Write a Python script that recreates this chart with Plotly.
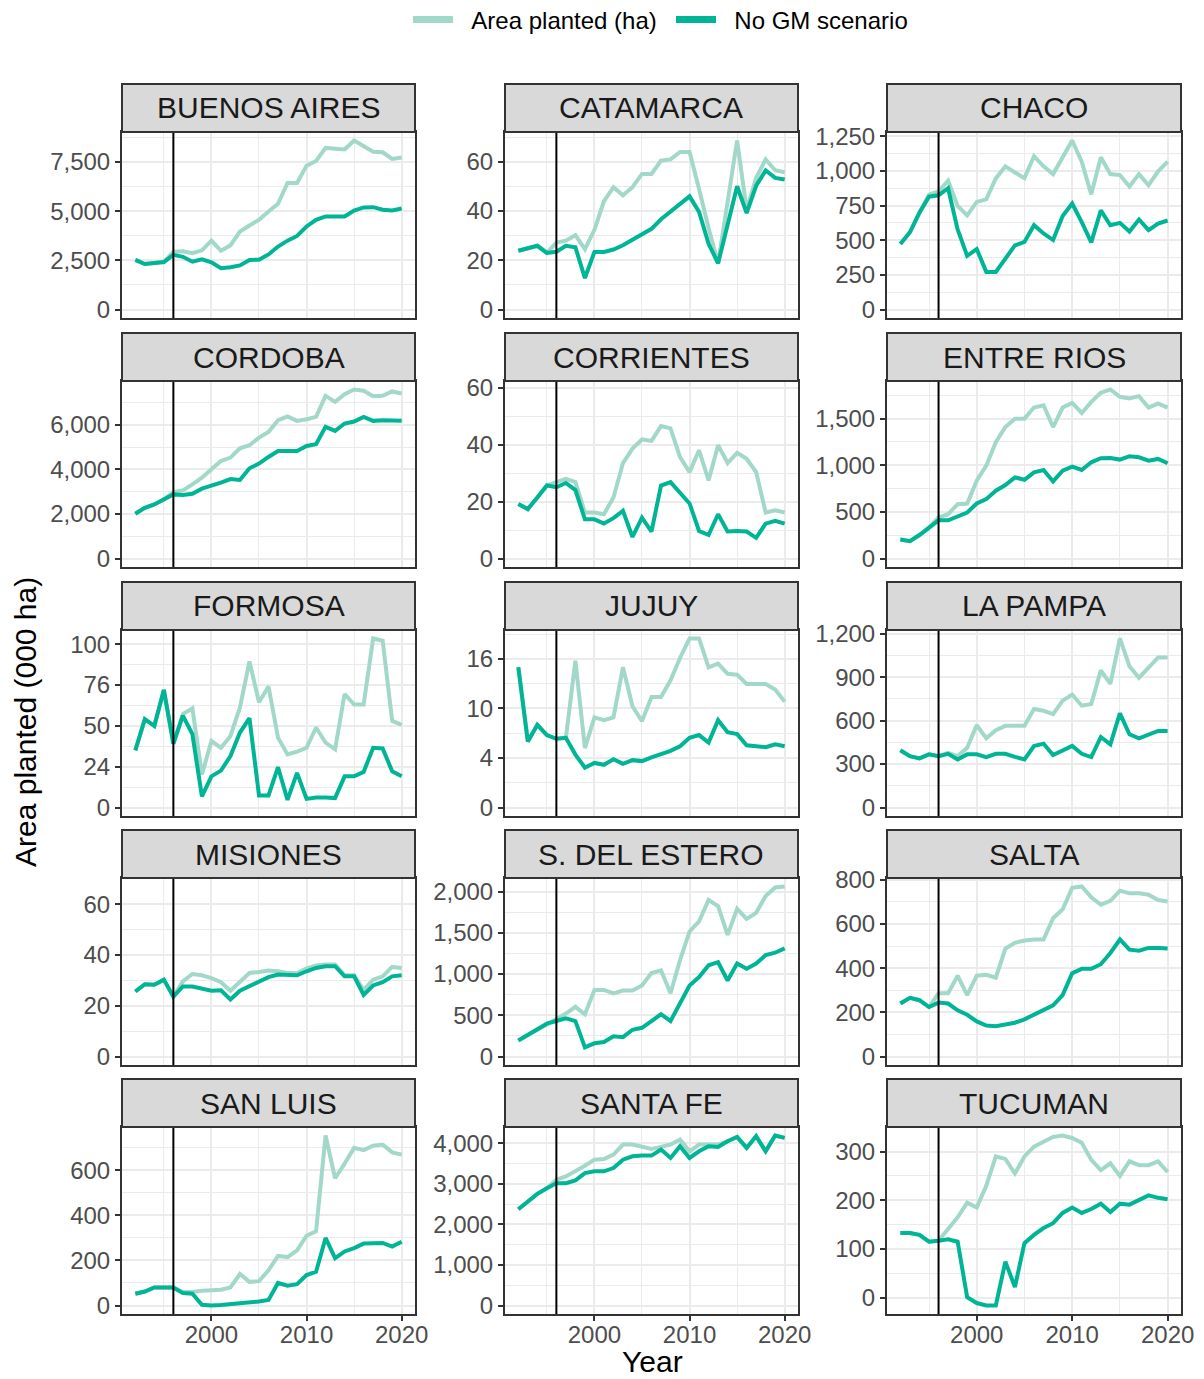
import plotly.graph_objects as go

years = list(range(1992, 2021))

provinces = ["BUENOS AIRES", "CATAMARCA", "CHACO", "CORDOBA", "CORRIENTES",
             "ENTRE RIOS", "FORMOSA", "JUJUY", "LA PAMPA", "MISIONES",
             "S. DEL ESTERO", "SALTA", "SAN LUIS", "SANTA FE", "TUCUMAN"]

buenos_aires_area = [2520, 2310, 2360, 2410, 2940, 2960, 2860, 3010, 3500, 2990, 3260, 3960, 4270, 4560, 4980, 5370, 6430, 6430, 7310, 7550, 8210, 8160, 8130, 8590, 8300, 8020, 7990, 7650, 7720]
buenos_aires_nogm = [2520, 2310, 2360, 2410, 2780, 2680, 2430, 2550, 2400, 2100, 2150, 2240, 2520, 2530, 2800, 3200, 3500, 3740, 4220, 4560, 4730, 4740, 4730, 5030, 5190, 5200, 5070, 5030, 5130]

catamarca_area = [23.9, 24.9, 25.9, 23.0, 27.2, 28.0, 30.2, 24.5, 32.4, 44.0, 49.7, 46.4, 49.7, 55.1, 55.1, 60.5, 61.0, 64.0, 64.0, 49.0, 33.0, 18.8, 44.0, 68.7, 40.5, 53.5, 61.0, 56.6, 55.8]
catamarca_nogm = [23.9, 24.9, 25.9, 23.0, 23.5, 25.9, 25.3, 12.8, 23.4, 23.4, 24.4, 26.1, 28.2, 30.3, 32.8, 36.7, 39.7, 42.9, 46.0, 39.7, 26.7, 18.8, 34.0, 50.1, 39.2, 50.3, 56.5, 53.5, 52.8]

chaco_area = [473, 558, 699, 830, 854, 930, 748, 680, 777, 796, 947, 1034, 990, 949, 1107, 1034, 978, 1107, 1221, 1068, 832, 1100, 978, 971, 888, 978, 898, 998, 1068]
chaco_nogm = [473, 558, 699, 815, 825, 876, 578, 388, 437, 272, 272, 371, 463, 488, 609, 549, 502, 675, 765, 631, 485, 716, 609, 626, 563, 650, 573, 621, 643]

cordoba_area = [2010, 2280, 2430, 2655, 2985, 3060, 3330, 3630, 4005, 4380, 4530, 4950, 5085, 5430, 5685, 6210, 6375, 6180, 6255, 6360, 7305, 7035, 7380, 7590, 7530, 7290, 7305, 7500, 7410]
cordoba_nogm = [2010, 2280, 2430, 2655, 2880, 2850, 2910, 3135, 3255, 3405, 3570, 3525, 4050, 4260, 4560, 4830, 4830, 4830, 5055, 5130, 5910, 5730, 6060, 6150, 6360, 6180, 6210, 6180, 6180]

corrientes_area = [19.2, 17.4, 21.5, 25.7, 26.9, 28.0, 26.9, 16.2, 16.2, 15.6, 21.5, 33.6, 38.7, 41.9, 41.4, 46.6, 45.8, 35.7, 30.4, 38.1, 27.5, 39.9, 33.6, 37.2, 35.1, 30.4, 16.2, 17.0, 16.2]
corrientes_nogm = [19.2, 17.4, 21.5, 25.7, 25.1, 26.6, 24.1, 13.8, 13.8, 12.3, 14.2, 16.8, 7.6, 14.4, 9.5, 25.7, 26.9, 23.3, 19.4, 9.7, 8.3, 15.6, 9.5, 9.7, 9.5, 7.3, 12.3, 13.3, 12.3]

entre_rios_area = [205, 187, 252, 331, 439, 475, 583, 590, 835, 996, 1248, 1410, 1500, 1500, 1619, 1644, 1410, 1619, 1669, 1561, 1680, 1777, 1813, 1734, 1716, 1741, 1619, 1662, 1619]
entre_rios_nogm = [205, 187, 252, 331, 410, 410, 446, 493, 590, 637, 727, 788, 870, 845, 924, 950, 827, 942, 986, 950, 1032, 1075, 1079, 1061, 1097, 1086, 1050, 1068, 1022]

formosa_area = [35.0, 54.1, 50.0, 72.0, 39.1, 57.2, 60.7, 20.2, 40.7, 36.6, 43.8, 61.3, 89.5, 64.4, 74.1, 42.8, 32.5, 34.2, 36.6, 49.0, 39.7, 35.6, 69.5, 63.0, 63.0, 103.5, 102.1, 53.1, 50.6]
formosa_nogm = [35.0, 54.1, 50.0, 72.0, 39.1, 56.2, 44.9, 6.8, 19.1, 22.6, 31.5, 45.9, 54.7, 7.4, 7.4, 24.7, 4.7, 21.2, 5.3, 6.2, 6.2, 5.8, 19.1, 19.1, 21.8, 36.6, 36.2, 22.2, 19.1]

jujuy_area = [15.1, 7.1, 8.9, 7.8, 7.4, 7.5, 15.8, 6.4, 9.7, 9.4, 9.7, 15.1, 10.9, 9.3, 11.9, 11.9, 13.7, 16.1, 18.2, 18.2, 15.1, 15.5, 14.4, 14.3, 13.3, 13.3, 13.3, 12.7, 11.4]
jujuy_nogm = [15.1, 7.1, 8.9, 7.8, 7.4, 7.5, 5.7, 4.3, 4.8, 4.6, 5.2, 4.7, 5.1, 5.0, 5.4, 5.7, 6.1, 6.6, 7.5, 7.8, 7.0, 9.4, 8.1, 7.9, 6.7, 6.6, 6.5, 6.8, 6.6]

la_pampa_area = [395, 355, 339, 367, 355, 378, 355, 413, 569, 478, 534, 564, 564, 564, 680, 668, 645, 738, 780, 703, 715, 947, 854, 1167, 975, 896, 965, 1035, 1035]
la_pampa_nogm = [395, 355, 339, 367, 355, 371, 332, 367, 367, 348, 371, 371, 350, 332, 425, 441, 362, 390, 425, 371, 348, 487, 436, 650, 506, 478, 501, 529, 529]

misiones_area = [25.6, 28.5, 28.3, 30.3, 23.6, 29.6, 32.5, 32.0, 30.9, 29.3, 25.9, 29.6, 32.9, 33.3, 33.9, 33.6, 32.9, 32.9, 34.7, 35.9, 36.3, 36.3, 32.0, 32.0, 26.3, 30.3, 31.6, 35.3, 34.9]
misiones_nogm = [25.6, 28.5, 28.3, 30.3, 23.6, 27.6, 27.6, 26.9, 25.9, 26.1, 22.5, 25.9, 27.6, 29.6, 31.3, 32.3, 32.3, 32.0, 33.6, 34.9, 35.6, 35.6, 31.6, 31.6, 24.3, 28.0, 29.3, 31.6, 32.0]

s_del_estero_area = [193, 258, 328, 398, 463, 520, 602, 512, 807, 807, 766, 799, 799, 861, 1012, 1045, 766, 1168, 1516, 1639, 1897, 1824, 1475, 1791, 1668, 1742, 1947, 2049, 2061]
s_del_estero_nogm = [193, 258, 328, 398, 430, 463, 430, 111, 160, 176, 246, 234, 324, 348, 430, 512, 430, 635, 861, 963, 1106, 1143, 922, 1127, 1065, 1127, 1229, 1258, 1311]

salta_area = [240, 266, 255, 224, 286, 286, 366, 278, 366, 370, 357, 489, 515, 525, 530, 530, 626, 667, 764, 770, 721, 687, 705, 751, 739, 739, 733, 709, 702]
salta_nogm = [240, 266, 255, 224, 244, 240, 209, 189, 159, 140, 137, 144, 153, 168, 189, 209, 232, 278, 377, 397, 397, 418, 469, 530, 484, 479, 492, 492, 489]

san_luis_area = [52, 62, 80, 80, 80, 60, 60, 65, 68, 70, 80, 140, 105, 108, 156, 220, 215, 245, 310, 330, 755, 565, 630, 700, 690, 710, 715, 680, 670]
san_luis_nogm = [52, 62, 80, 80, 80, 55, 52, 3, 0, 2, 5, 12, 15, 18, 25, 100, 88, 95, 135, 150, 300, 210, 240, 255, 275, 278, 278, 262, 283]

santa_fe_area = [2372, 2562, 2752, 2892, 3099, 3182, 3306, 3446, 3595, 3611, 3719, 3967, 3967, 3925, 3859, 3909, 3967, 4091, 3801, 3967, 3967, 3967, 4049, 4157, 3884, 4173, 3801, 4190, 4132]
santa_fe_nogm = [2372, 2562, 2752, 2892, 3016, 3016, 3082, 3264, 3306, 3306, 3388, 3595, 3677, 3694, 3694, 3843, 3636, 3925, 3636, 3801, 3925, 3909, 4049, 4157, 3884, 4173, 3801, 4190, 4132]

tucuman_area = [133, 133, 129, 115, 117, 140, 165, 195, 185, 230, 290, 285, 255, 290, 310, 320, 330, 333, 328, 318, 283, 262, 276, 250, 280, 272, 272, 280, 258]
tucuman_nogm = [133, 133, 129, 115, 117, 120, 115, 1, -11, -16, -16, 74, 22, 112, 129, 143, 153, 174, 185, 174, 182, 193, 176, 193, 191, 200, 210, 205, 202]

# y-axis break positions and their printed labels, per panel
y_breaks = [
    [0, 2500, 5000, 7500], [0, 20, 40, 60], [0, 250, 500, 750, 1000, 1250],
    [0, 2000, 4000, 6000], [0, 20, 40, 60], [0, 500, 1000, 1500],
    [0, 25, 50, 75, 100], [0, 16 / 3, 32 / 3, 16], [0, 300, 600, 900, 1200],
    [0, 20, 40, 60], [0, 500, 1000, 1500, 2000], [0, 200, 400, 600, 800],
    [0, 200, 400, 600], [0, 1000, 2000, 3000, 4000], [0, 100, 200, 300],
]
y_labels = [
    ["0", "2,500", "5,000", "7,500"], ["0", "20", "40", "60"],
    ["0", "250", "500", "750", "1,000", "1,250"],
    ["0", "2,000", "4,000", "6,000"], ["0", "20", "40", "60"],
    ["0", "500", "1,000", "1,500"],
    ["0", "24", "50", "76", "100"], ["0", "4", "10", "16"],
    ["0", "300", "600", "900", "1,200"],
    ["0", "20", "40", "60"], ["0", "500", "1,000", "1,500", "2,000"],
    ["0", "200", "400", "600", "800"],
    ["0", "200", "400", "600"], ["0", "1,000", "2,000", "3,000", "4,000"],
    ["0", "100", "200", "300"],
]
# upper y limits extended beyond the data in two panels
y_upper_limit = {"CORRIENTES": 59.5, "MISIONES": 67}

x_breaks = [2000, 2010, 2020]
x_minor = [1995, 2005, 2015]
gm_year = 1996

area_series = [buenos_aires_area, catamarca_area, chaco_area, cordoba_area, corrientes_area,
               entre_rios_area, formosa_area, jujuy_area, la_pampa_area, misiones_area,
               s_del_estero_area, salta_area, san_luis_area, santa_fe_area, tucuman_area]
nogm_series = [buenos_aires_nogm, catamarca_nogm, chaco_nogm, cordoba_nogm, corrientes_nogm,
               entre_rios_nogm, formosa_nogm, jujuy_nogm, la_pampa_nogm, misiones_nogm,
               s_del_estero_nogm, salta_nogm, san_luis_nogm, santa_fe_nogm, tucuman_nogm]

LIGHT = "#A2D8C9"
DARK = "#00B496"
GRID = "#EBEBEB"
BORDER = "#333333"
FONT = "Liberation Sans, Arial, sans-serif"

# the page body adds an 8px margin, so the figure is drawn 8px in from the window edge
PAGE_W, PAGE_H = 1204, 1379
OFF = 8
W, H = PAGE_W - OFF, PAGE_H - OFF
col_px = [(122, 415), (505, 798), (887, 1181)]
row_px = [(132, 318), (381, 567), (630, 816), (878, 1065), (1127, 1314)]
STRIP = 48


def px(xp):
    return (xp - OFF) / W


def py(yp):
    return 1 - (yp - OFF) / H


fig = go.Figure()
shapes = []
annotations = []
layout_axes = {}

for i, name in enumerate(provinces):
    r, c = divmod(i, 3)
    n = i + 1
    xref = "x" if n == 1 else f"x{n}"
    yref = "y" if n == 1 else f"y{n}"
    area = area_series[i]
    nogm = nogm_series[i]

    fig.add_trace(go.Scatter(x=years, y=area, mode="lines", name="Area planted (ha)",
                             line=dict(color=LIGHT, width=4), showlegend=False,
                             xaxis=xref, yaxis=yref, hoverinfo="skip"))
    fig.add_trace(go.Scatter(x=years, y=nogm, mode="lines", name="No GM scenario",
                             line=dict(color=DARK, width=4), showlegend=False,
                             xaxis=xref, yaxis=yref, hoverinfo="skip"))

    lo = min(0, min(area), min(nogm))
    hi = max(max(area), max(nogm), y_upper_limit.get(name, -1e9))
    pad = (hi - lo) * 0.05
    yr = [lo - pad, hi + pad]

    br = y_breaks[i]
    step = br[1] - br[0]
    minor = [b + step / 2 for b in [br[0] - step] + br]
    minor = [m for m in minor if yr[0] <= m <= yr[1]]

    x0p, x1p = col_px[c]
    y0p, y1p = row_px[r]
    bottom = (r == 4)

    layout_axes["xaxis" if n == 1 else f"xaxis{n}"] = dict(
        domain=[px(x0p), px(x1p)], anchor=yref, range=[1990.6, 2021.4],
        automargin=False,
        tickmode="array", tickvals=x_breaks, ticktext=[str(v) for v in x_breaks],
        showticklabels=bottom, ticks="outside" if bottom else "", ticklen=5,
        tickwidth=2, tickcolor=BORDER, ticklabelstandoff=-7,
        tickfont=dict(size=24, color="#4D4D4D", family=FONT),
        showgrid=True, gridcolor=GRID, gridwidth=2, zeroline=False,
        minor=dict(tickmode="array", tickvals=x_minor, showgrid=True,
                   gridcolor=GRID, gridwidth=1, ticks=""),
        showline=True, mirror=True, linecolor=BORDER, linewidth=2,
    )
    layout_axes["yaxis" if n == 1 else f"yaxis{n}"] = dict(
        domain=[py(y1p), py(y0p)], anchor=xref, range=yr,
        automargin=False,
        tickmode="array", tickvals=br, ticktext=y_labels[i],
        ticks="outside", ticklen=5, tickwidth=2, tickcolor=BORDER,
        tickfont=dict(size=24, color="#4D4D4D", family=FONT),
        showgrid=True, gridcolor=GRID, gridwidth=2, zeroline=False,
        minor=dict(tickmode="array", tickvals=minor, showgrid=True,
                   gridcolor=GRID, gridwidth=1, ticks=""),
        showline=True, mirror=True, linecolor=BORDER, linewidth=2,
    )

    shapes.append(dict(type="line", xref=xref, yref=f"{yref} domain",
                       x0=gm_year, x1=gm_year, y0=0, y1=1,
                       line=dict(color="black", width=2), layer="above"))
    shapes.append(dict(type="rect", xref="paper", yref="paper",
                       x0=px(x0p), x1=px(x1p), y0=py(y0p), y1=py(y0p - STRIP),
                       fillcolor="#D9D9D9", line=dict(color=BORDER, width=2), layer="above"))
    annotations.append(dict(text=name, xref="paper", yref="paper",
                            x=px((x0p + x1p) / 2), y=py(y0p - STRIP / 2),
                            xanchor="center", yanchor="middle", showarrow=False,
                            font=dict(size=30, color="#1A1A1A", family=FONT)))

# legend entries (thicker swatches, as in the key)
NBSP = "\u00a0\u00a0"
fig.add_trace(go.Scatter(x=[None], y=[None], mode="lines", name=NBSP + "Area planted (ha)",
                         line=dict(color=LIGHT, width=7), showlegend=True, hoverinfo="skip"))
fig.add_trace(go.Scatter(x=[None], y=[None], mode="lines", name=NBSP + "No GM scenario",
                         line=dict(color=DARK, width=7), showlegend=True, hoverinfo="skip"))

annotations.append(dict(text="Year", xref="paper", yref="paper", x=px(652), y=py(1361),
                        xanchor="center", yanchor="middle", showarrow=False, borderpad=0,
                        font=dict(size=30, color="black", family=FONT)))
annotations.append(dict(text="Area planted (000 ha)", xref="paper", yref="paper",
                        x=px(25), y=py(722), textangle=-90,
                        xanchor="center", yanchor="middle", showarrow=False,
                        font=dict(size=30, color="black", family=FONT)))

fig.update_layout(
    width=W, height=H, margin=dict(l=0, r=0, t=0, b=0, autoexpand=False),
    paper_bgcolor="white", plot_bgcolor="white",
    font=dict(family=FONT),
    shapes=shapes, annotations=annotations,
    legend=dict(orientation="h", xref="container", yref="container",
                x=px(408), xanchor="left", y=py(20), yanchor="middle",
                font=dict(size=24, color="black", family=FONT), bgcolor="rgba(0,0,0,0)",
                itemwidth=40, entrywidth=208, entrywidthmode="pixels", tracegroupgap=0),
    **layout_axes,
)

fig.write_html("out.html")
